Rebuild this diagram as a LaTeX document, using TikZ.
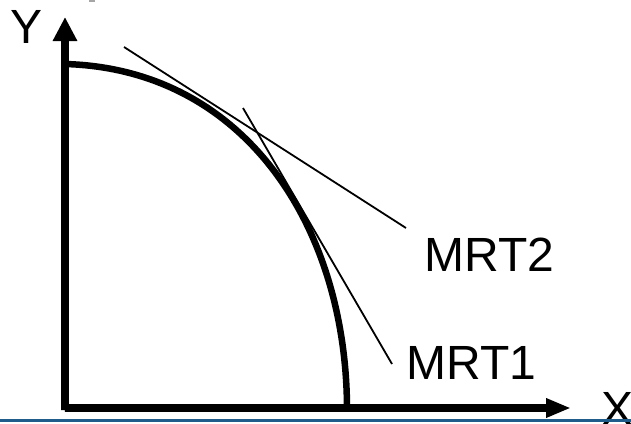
\documentclass[tikz,border=0pt]{standalone}
\usepackage{fontspec}
\setmainfont{Liberation Sans}
\usetikzlibrary{arrows.meta}
\definecolor{rulebl}{RGB}{31,92,140}
\begin{document}
\begin{tikzpicture}[x=1pt,y=-1pt,
  axisline/.style={line width=7.5pt, line join=miter},
  ppf/.style={line width=6.5pt},
  tangent/.style={line width=1.8pt},
  lbl/.style={inner sep=0pt, anchor=base west, font=\fontsize{48}{58}\selectfont}]
\useasboundingbox (0,0) rectangle (631,423);
\fill[gray!70] (89,0) rectangle (95,1.5);
\coordinate (O) at (65,410);
\coordinate (ytip) at (65,17);
\coordinate (xtip) at (571,408);
\draw[axisline, {Triangle[length=24pt,width=23pt]}-{Triangle[length=25pt,width=18pt]}] (ytip) -- (O) -- (65,408) -- (xtip);
\coordinate (c0) at (65,64);
\coordinate (c1) at (347,410);
\draw[ppf] (c0) .. controls (245,69) and (347,227) .. (c1);
\coordinate (t2a) at (124,47);
\coordinate (t2b) at (406,228);
\coordinate (t1a) at (243,108);
\coordinate (t1b) at (392,364);
\draw[tangent] (t2a) -- (t2b);
\draw[tangent] (t1a) -- (t1b);
\node[lbl] (ylab) at (10,43) {Y};
\node[lbl] (xlab) at (601.5,425) {X};
\node[lbl] (mrt2) at (424.5,271) {MRT2};
\node[lbl] (mrt1) at (406.5,379) {MRT1};
\draw[line width=3pt, rulebl] (0,420.5) -- (631,420.5);
\end{tikzpicture}
\end{document}
